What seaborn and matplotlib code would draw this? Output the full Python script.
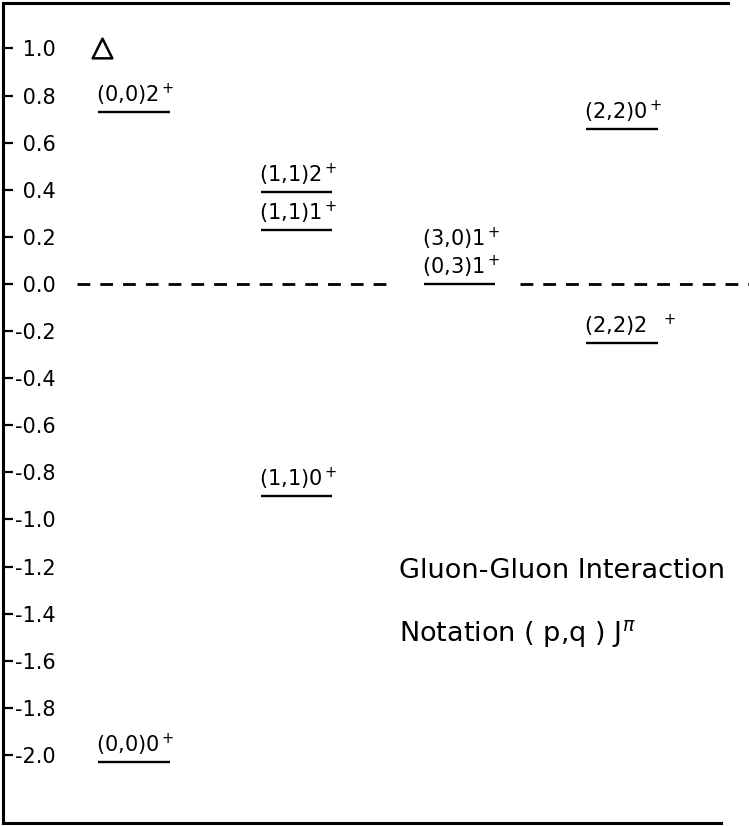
import matplotlib
matplotlib.use("Agg")
import matplotlib.pyplot as plt
import seaborn as sns
import pandas as pd

# energy levels, one entry per state
states = ["(0,0)2$^+$", "(0,0)0$^+$",
          "(1,1)2$^+$", "(1,1)1$^+$", "(1,1)0$^+$",
          "(3,0)1$^+$\n(0,3)1$^+$",
          "(2,2)0$^+$", "(2,2)2  $^+$"]
column = [0, 0, 1, 1, 1, 2, 3, 3]
energy = [0.73, -2.03, 0.39, 0.23, -0.90, 0.0, 0.66, -0.25]

delta_value = 1.0

yticks = [1.0, 0.8, 0.6, 0.4, 0.2, 0.0, -0.2, -0.4, -0.6, -0.8,
          -1.0, -1.2, -1.4, -1.6, -1.8, -2.0]
ytick_labels = [" 1.0", " 0.8", " 0.6", " 0.4", " 0.2", " 0.0",
                "-0.2", "-0.4", "-0.6", "-0.8", "-1.0", "-1.2",
                "-1.4", "-1.6", "-1.8", "-2.0"]

note_lines = ["Gluon-Gluon Interaction", "Notation ( p,q ) J$^{\\pi}$"]

df = pd.DataFrame({"state": states, "column": column, "energy": energy})

sns.set_style("white")
plt.rcParams["font.family"] = ["DejaVu Sans"]
plt.rcParams["mathtext.fontset"] = "dejavusans"
plt.rcParams["text.color"] = "black"
plt.rcParams["ytick.color"] = "black"
plt.rcParams["ytick.labelcolor"] = "black"

fig = plt.figure(figsize=(7.49, 8.26), dpi=100)
ax = fig.add_axes([3 / 749, 3 / 826, 746 / 749, 820 / 826])

half = 0.22
ax.hlines(df["energy"], df["column"] - half, df["column"] + half,
          color="black", lw=1.7)

# zero reference line, broken around the (3,0)/(0,3) level
dash = (0, (4.6, 3.6))
ax.hlines(0.0, -0.35, 1.60, color="black", lw=2.0, linestyles=[dash])
ax.hlines(0.0, 2.37, 3.78, color="black", lw=2.0, linestyles=[dash])

sns.scatterplot(x=[-0.197], y=[delta_value], marker="^", s=200,
                facecolor="white", edgecolor="black", linewidth=1.8,
                ax=ax, legend=False, zorder=3)

for _, row in df.iterrows():
    ax.annotate(row["state"], xy=(row["column"] - half, row["energy"]),
                xytext=(-1.5, 7), textcoords="offset points",
                ha="left", va="baseline", fontsize=15, linespacing=1.1,
                color="black")

ax.text(1.63, -1.25, note_lines[0], fontsize=19.5, ha="left",
        va="baseline", color="black")
ax.text(1.63, -1.52, note_lines[1], fontsize=19.5, ha="left",
        va="baseline", color="black")

ax.set_xlim(-0.805, 3.78)
ax.set_ylim(-2.289, 1.193)
ax.set_xticks([])
ax.set_yticks(yticks)
ax.set_yticklabels(ytick_labels)
ax.tick_params(axis="y", direction="in", length=7, width=1.6, pad=-9,
               labelsize=15, left=True)
for lab in ax.get_yticklabels():
    lab.set_horizontalalignment("left")

for side in ["left", "top", "bottom"]:
    ax.spines[side].set_linewidth(2.2)
    ax.spines[side].set_color("black")
ax.spines["right"].set_visible(False)
ax.spines["top"].set_bounds(-0.805, 3.65)
ax.spines["bottom"].set_bounds(-0.805, 3.61)

fig.savefig("out.png", dpi=100)
